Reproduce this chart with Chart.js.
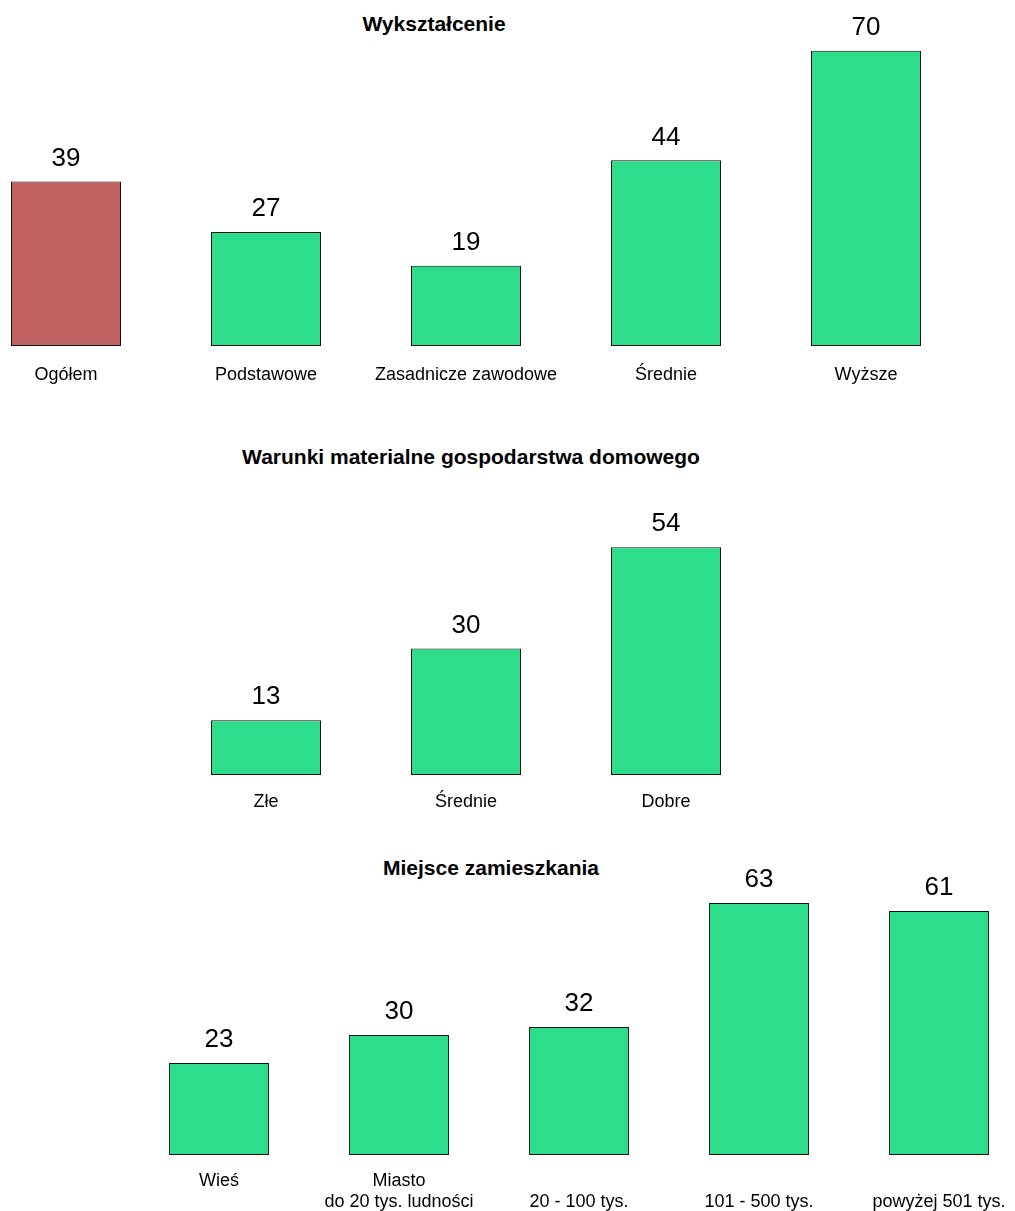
<!DOCTYPE html>
<html lang="pl">
<head>
<meta charset="utf-8">
<title>Wykształcenie / Warunki materialne / Miejsce zamieszkania</title>
<script src="https://cdn.jsdelivr.net/npm/chart.js@4.4.1/dist/chart.umd.min.js"></script>
<style>
    html, body {
        margin: 0;
        padding: 0;
        background: #fff;
        width: 1015px;
        height: 1211px;
        overflow: hidden;
        position: relative;
        font-family: "Liberation Sans", Arial, sans-serif;
    }
    .panel { position: absolute; }
    .title {
        position: absolute;
        transform: translate(-50%, -50%);
        font-weight: bold;
        font-size: 21px;
        white-space: nowrap;
        color: #000;
    }
</style>
</head>
<body>

<div class="title" style="left:434px; top:24px;">Wykształcenie</div>
<div class="panel" style="left:-34px; top:0px; width:1000px; height:406px;"><canvas id="edu-chart"></canvas></div>

<div class="title" style="left:471px; top:457px;">Warunki materialne gospodarstwa domowego</div>
<div class="panel" style="left:166px; top:429px; width:600px; height:406px;"><canvas id="cond-chart"></canvas></div>

<div class="title" style="left:491px; top:868px;">Miejsce zamieszkania</div>
<div class="panel" style="left:129px; top:827px; width:900px; height:388px;"><canvas id="place-chart"></canvas></div>

<script>
/* ---------- Data ---------- */

const eduLabels = ['Ogółem', 'Podstawowe', 'Zasadnicze zawodowe', 'Średnie', 'Wyższe'];
const eduValues = [39, 27, 19, 44, 70];

const condLabels = ['Złe', 'Średnie', 'Dobre'];
const condValues = [13, 30, 54];

const placeLabels = [
    ['Wieś'],
    ['Miasto', 'do 20 tys. ludności'],
    ['', '20 - 100 tys.'],
    ['', '101 - 500 tys.'],
    ['', 'powyżej 501 tys.'],
];
const placeValues = [23, 30, 32, 63, 61];

/* ---------- Styles ---------- */

const GREEN = '#2edd8b';
const RED = '#c06262';
const FONT = '"Liberation Sans", Arial, sans-serif';

/* value printed above each bar */
const valueLabels = {
    id: 'valueLabels',
    afterDatasetsDraw(chart) {
        const ctx = chart.ctx;
        const meta = chart.getDatasetMeta(0);
        const data = chart.data.datasets[0].data;
        ctx.save();
        ctx.font = `26px ${FONT}`;
        ctx.fillStyle = '#000';
        ctx.textAlign = 'center';
        ctx.textBaseline = 'middle';
        meta.data.forEach((bar, i) => {
            ctx.fillText(String(data[i]), bar.x, bar.y - 23);
        });
        ctx.restore();
    },
};

function makeChart(canvasId, labels, values, opts) {
    const colors = labels.map(l => (l === 'Ogółem' ? RED : GREEN));
    return new Chart(document.getElementById(canvasId), {
        type: 'bar',
        data: {
            labels,
            datasets: [{
                data: values,
                backgroundColor: colors,
                borderColor: '#111',
                borderWidth: 1,
                borderSkipped: false,
                categoryPercentage: 1,
                barPercentage: opts.barPct,
            }],
        },
        options: {
            responsive: true,
            maintainAspectRatio: false,
            animation: false,
            layout: { padding: 0 },
            plugins: {
                legend: { display: false },
                tooltip: { enabled: false },
                title: { display: false },
            },
            scales: {
                x: {
                    offset: true,
                    grid: { display: false, drawTicks: false },
                    border: { display: false },
                    ticks: {
                        color: '#000',
                        font: { family: FONT, size: 18 },
                        padding: opts.tickPad,
                        maxRotation: 0,
                        autoSkip: false,
                    },
                    afterFit: (scale) => { scale.height = 60; },
                },
                y: {
                    display: false,
                    min: 0,
                    max: 82,
                },
            },
        },
        plugins: [valueLabels],
    });
}

makeChart('edu-chart', eduLabels, eduValues, { barPct: 0.55, tickPad: 18 });
makeChart('cond-chart', condLabels, condValues, { barPct: 0.55, tickPad: 16 });
makeChart('place-chart', placeLabels, placeValues, { barPct: 0.556, tickPad: 15 });
</script>
</body>
</html>
